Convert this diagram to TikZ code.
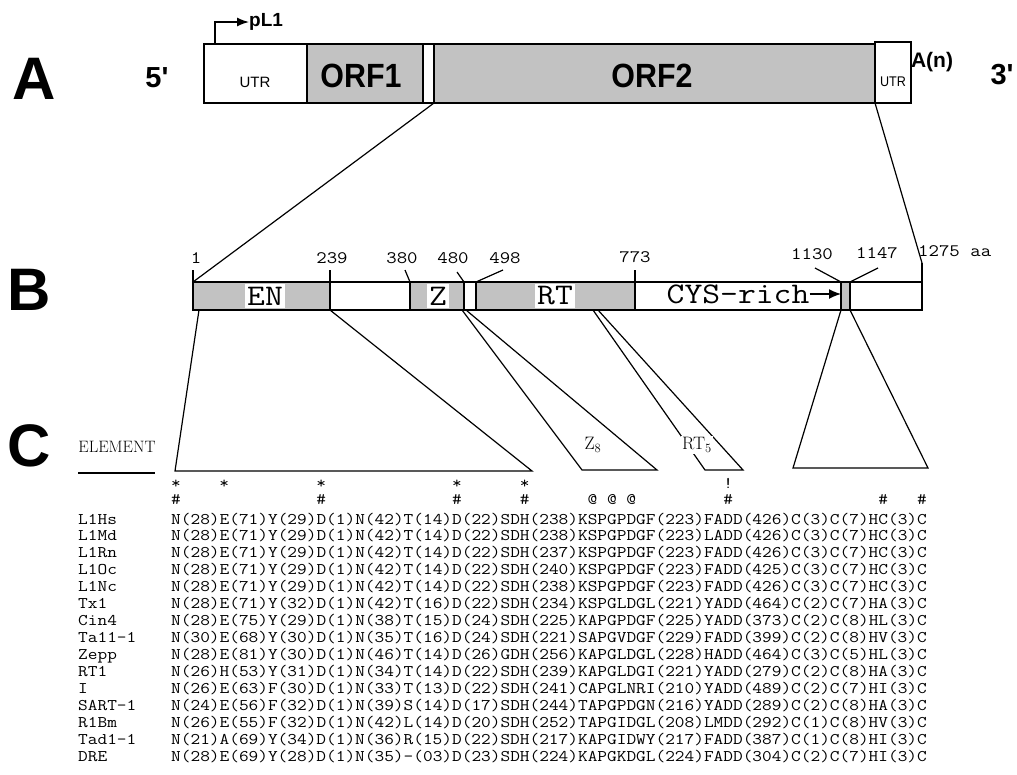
\documentclass[tikz,border=0pt]{standalone}
\usepackage{fontspec}
\newfontfamily\hv{Liberation Sans}
\usetikzlibrary{arrows.meta}
\newcommand\cour[2]{\scalebox{1.25}[1.08]{\fontsize{#1}{#1}\selectfont\ttfamily\addfontfeatures{FakeBold=0.7}#2}}
\newcommand\hvb[2]{{\fontsize{#1}{#1}\selectfont\hv\bfseries #2}}
\newcommand\hvr[2]{{\fontsize{#1}{#1}\selectfont\hv #2}}
\tikzset{
  dom/.style={fill=black!24},
  boxA/.style={draw, line width=1.7pt},
  boxB/.style={draw, line width=1.5pt},
  conn/.style={line width=1.2pt},
  lbl/.style={inner sep=0pt},
  mk/.style={inner sep=0pt},
  domlbl/.style={fill=white, inner xsep=2pt, inner ysep=0pt, minimum height=24pt},
}
\begin{document}
\begin{tikzpicture}[x=1pt,y=-1pt]
\useasboundingbox (0,0) rectangle (1017,774);
% ---------------- Panel A ----------------
\node[lbl] (labA) at (34,79) {\hvb{60}{A}};
\node[lbl] (five) at (157,78) {\hvb{29}{5'}};
\node[lbl] (three) at (1002,75) {\hvb{29}{3'}};
\fill[dom] (307,44) rectangle (423,103);
\fill[dom] (434,44) rectangle (875,103);
\draw[boxA] (204,44) rectangle (875,103);
\draw[boxA] (875,42) rectangle (911,103);
\draw[boxA] (307,44) -- (307,103) (423,44) -- (423,103) (434,44) -- (434,103);
\node[lbl] (utrL) at (255,82) {\hvr{15}{UTR}};
\node[lbl] (utrR) at (893,82) {\scalebox{0.9}[1]{\hvr{14}{UTR}}};
\node[lbl] (orf1) at (361,76) {\scalebox{0.95}[1.05]{\hvb{32}{ORF1}}};
\node[lbl] (orf2) at (652,76) {\scalebox{0.95}[1.05]{\hvb{32}{ORF2}}};
\node[lbl] (an) at (932,62) {\hvb{21}{A(n)}};
\coordinate (pfoot) at (215,44);
\node[lbl, anchor=west] (pl1) at (249,22) {\hvb{19}{pL1}};
\draw[line width=1.4pt, -{Latex[length=12pt,width=9pt]}] (pfoot) |- (pl1.west);
\coordinate (orf2start) at (434,103);
\coordinate (utr3) at (875,103);
% ---------------- Panel B ----------------
\node[lbl] (labB) at (29,290) {\hvb{60}{B}};
\fill[dom] (193,282) rectangle (330,310);
\fill[dom] (410,282) rectangle (464,310);
\fill[dom] (476,282) rectangle (635,310);
\fill[dom] (841,282) rectangle (850,310);
\draw[boxB] (193,282) rectangle (922,310);
\draw[boxB] (193,270) -- (193,282) (330,270) -- (330,310) (410,282) -- (410,310)
  (464,282) -- (464,310) (476,282) -- (476,310) (635,270) -- (635,310)
  (841,282) -- (841,310) (850,282) -- (850,310) (922,263) -- (922,282);
\draw[conn] (405,270) -- (410,282) (457,272) -- (464,282) (503,270) -- (476,282)
  (815,268) -- (841,282) (878,268) -- (850,282);
\coordinate (bstart) at (193,282);
\coordinate (bend) at (922,263);
\node[lbl] (n1) at (196,258) {\cour{16.2}{1}};
\node[lbl] (n239) at (332,258) {\cour{16.2}{239}};
\node[lbl] (n380) at (402,258) {\cour{16.2}{380}};
\node[lbl] (n480) at (453,258) {\cour{16.2}{480}};
\node[lbl] (n498) at (505,258) {\cour{16.2}{498}};
\node[lbl] (n773) at (635,257) {\cour{16.2}{773}};
\node[lbl] (n1130) at (812,254) {\cour{16.2}{1130}};
\node[lbl] (n1147) at (877,253) {\cour{16.2}{1147}};
\node[lbl, anchor=west] (n1275) at (918,251) {\cour{16.2}{1275 aa}};
\node[domlbl] (en) at (265,296) {\cour{27.7}{EN}};
\node[domlbl] (zz) at (438,296) {\cour{27.7}{Z}};
\node[domlbl] (rt) at (555,296) {\cour{27.7}{RT}};
\node[lbl] (cys) at (738,294) {\cour{27.7}{CYS-rich}};
\coordinate (cysend) at (841,294);
\draw[line width=1.4pt, -{Latex[length=12pt,width=10pt]}] (cys.east) -- (cysend);
% A -> B connectors
\draw[conn] (orf2start) -- (bstart);
\draw[conn] (utr3) -- (bend);
% ---------------- Panel C ----------------
\node[lbl] (labC) at (29,446) {\hvb{60}{C}};
\node[lbl] (elem) at (117,447) {\fontsize{16.5}{16.5}\selectfont ELEMENT};
\coordinate (ulA) at (78,473);
\coordinate (ulB) at (155,473);
\draw[line width=1.2pt] (ulA) -- (ulB);
% triangles
\coordinate (enL) at (199,310); \coordinate (enR) at (330,310);
\coordinate (enBL) at (175,471); \coordinate (enBR) at (532,471);
\draw[conn] (enL) -- (enBL) -- (enBR) -- (enR);
\coordinate (zL) at (462,310); \coordinate (zR) at (466,310);
\coordinate (zBL) at (582,470); \coordinate (zBR) at (657,470);
\draw[conn] (zL) -- (zBL) -- (zBR) -- (zR);
\node[lbl] (z8) at (593,445) {\fontsize{18}{18}\selectfont Z\textsubscript{8}};
\coordinate (rL) at (593,310); \coordinate (rR) at (598,310);
\coordinate (rBL) at (705,470); \coordinate (rBR) at (743,470);
\draw[conn] (rL) -- (rBL) -- (rBR) -- (rR);
\node[fill=white, inner sep=1pt] (rt5) at (697,445) {\fontsize{18}{18}\selectfont RT\textsubscript{5}};
\coordinate (cL) at (841,310); \coordinate (cR) at (850,310);
\coordinate (cBL) at (793,468); \coordinate (cBR) at (928,468);
\draw[conn] (cL) -- (cBL) -- (cBR) -- (cR);
% markers
\foreach \i [count=\c] in {0,5,15,29,36}
  \node[mk, name=st\c] at ({171+(\i+0.5)*9.69},484) {\cour{15.05}{*}};
\node[mk] (excl) at ({171+57.5*9.69},483) {\cour{15.05}{!}};
\foreach \i [count=\c] in {0,15,29,36,57,73,77}
  \node[mk, name=hs\c] at ({171+(\i+0.5)*9.69},500) {\cour{15.05}{\#}};
\foreach \i [count=\c] in {43,45,47}
  \node[mk, name=at\c] at ({171+(\i+0.5)*9.69},500) {\cour{15.05}{@}};
% table
\foreach \nm/\sq [count=\k from 0] in {
 L1Hs/N(28)E(71)Y(29)D(1)N(42)T(14)D(22)SDH(238)KSPGPDGF(223)FADD(426)C(3)C(7)HC(3)C,
 L1Md/N(28)E(71)Y(29)D(1)N(42)T(14)D(22)SDH(238)KSPGPDGF(223)LADD(426)C(3)C(7)HC(3)C,
 L1Rn/N(28)E(71)Y(29)D(1)N(42)T(14)D(22)SDH(237)KSPGPDGF(223)FADD(426)C(3)C(7)HC(3)C,
 L1Oc/N(28)E(71)Y(29)D(1)N(42)T(14)D(22)SDH(240)KSPGPDGF(223)FADD(425)C(3)C(7)HC(3)C,
 L1Nc/N(28)E(71)Y(29)D(1)N(42)T(14)D(22)SDH(238)KSPGPDGF(223)FADD(426)C(3)C(7)HC(3)C,
 Tx1/N(28)E(71)Y(32)D(1)N(42)T(16)D(22)SDH(234)KSPGLDGL(221)YADD(464)C(2)C(7)HA(3)C,
 Cin4/N(28)E(75)Y(29)D(1)N(38)T(15)D(24)SDH(225)KAPGPDGF(225)YADD(373)C(2)C(8)HL(3)C,
 Ta11-1/N(30)E(68)Y(30)D(1)N(35)T(16)D(24)SDH(221)SAPGVDGF(229)FADD(399)C(2)C(8)HV(3)C,
 Zepp/N(28)E(81)Y(30)D(1)N(46)T(14)D(26)GDH(256)KAPGLDGL(228)HADD(464)C(3)C(5)HL(3)C,
 RT1/N(26)H(53)Y(31)D(1)N(34)T(14)D(22)SDH(239)KAPGLDGI(221)YADD(279)C(2)C(8)HA(3)C,
 I/N(26)E(63)F(30)D(1)N(33)T(13)D(22)SDH(241)CAPGLNRI(210)YADD(489)C(2)C(7)HI(3)C,
 SART-1/N(24)E(56)F(32)D(1)N(39)S(14)D(17)SDH(244)TAPGPDGN(216)YADD(289)C(2)C(8)HA(3)C,
 R1Bm/N(26)E(55)F(32)D(1)N(42)L(14)D(20)SDH(252)TAPGIDGL(208)LMDD(292)C(1)C(8)HV(3)C,
 Tad1-1/N(21)A(69)Y(34)D(1)N(36)R(15)D(22)SDH(217)KAPGIDWY(217)FADD(387)C(1)C(8)HI(3)C,
 DRE/N(28)E(69)Y(28)D(1)N(35)-(03)D(23)SDH(224)KAPGKDGL(224)FADD(304)C(2)C(7)HI(3)C}
{
  \node[lbl, anchor=base west, name=nm\k] at (78,{524+\k*16.93}) {\cour{15.05}{\nm}};
  \node[lbl, anchor=base west, name=sq\k] at (171,{524+\k*16.93}) {\cour{15.05}{\sq}};
}
\end{tikzpicture}
\end{document}
